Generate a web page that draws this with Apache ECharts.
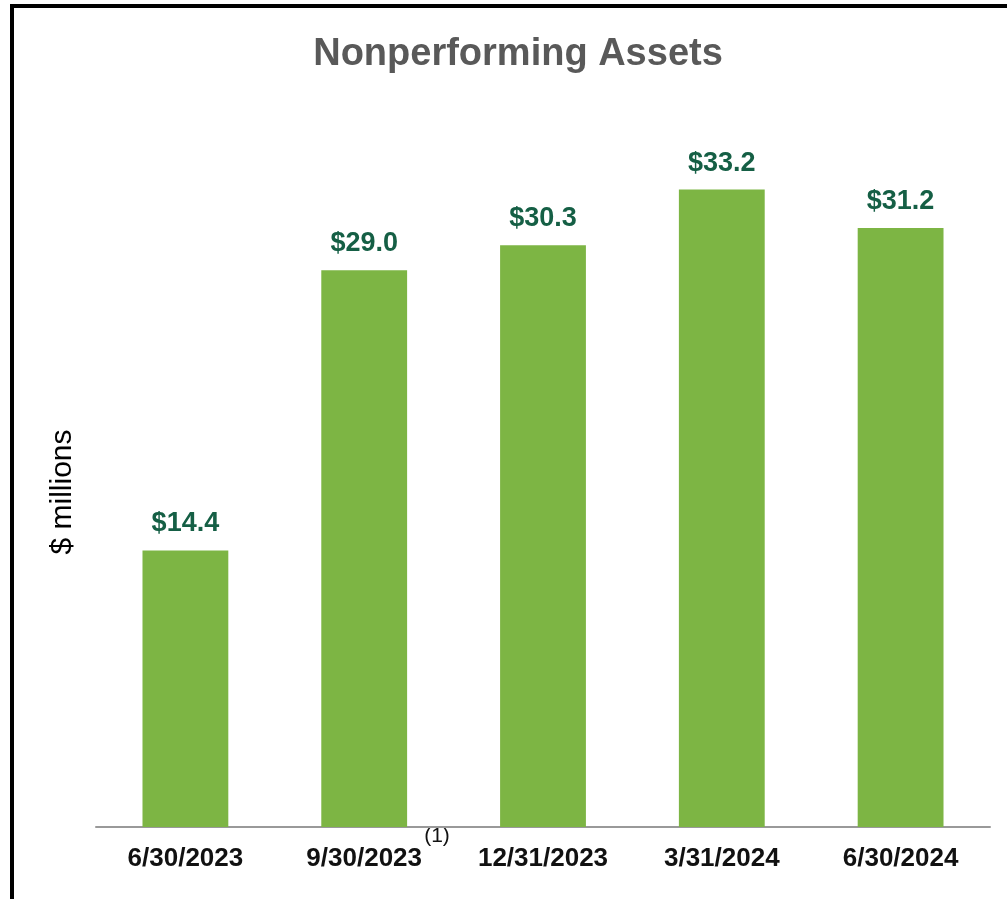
<!DOCTYPE html>
<html>
<head>
<meta charset="utf-8">
<script src="https://cdn.jsdelivr.net/npm/echarts@6/dist/echarts.min.js"></script>
<style>
  html, body { margin: 0; padding: 0; background: #fff; }
  #main { width: 1007px; height: 899px; }
</style>
</head>
<body>
<div id="main"></div>
<script>
// chart data
const categories = ['6/30/2023', '9/30/2023', '12/31/2023', '3/31/2024', '6/30/2024']
const values = [14.4, 29.0, 30.3, 33.2, 31.2]

const myChart = echarts.init(document.getElementById('main'))

myChart.setOption({
  backgroundColor: '#fff',
  animation: false,
  title: {
    text: 'Nonperforming Assets',
    left: 513,
    top: 31,
    textAlign: 'center',
    textStyle: {
      fontFamily: 'Liberation Sans',
      fontSize: 38,
      fontWeight: 'bold',
      color: '#595959'
    }
  },
  grid: {
    left: 96,
    right: 17,
    top: 59,
    bottom: 72
  },
  xAxis: {
    type: 'category',
    data: categories,
    axisLine: { lineStyle: { color: '#999', width: 2 } },
    axisTick: { show: false },
    axisLabel: {
      margin: 19,
      fontFamily: 'Liberation Sans',
      fontSize: 26,
      fontWeight: 'bold',
      color: '#111'
    }
  },
  yAxis: {
    type: 'value',
    min: 0,
    max: 40,
    show: false
  },
  series: [{
    type: 'bar',
    data: values,
    barWidth: '48%',
    itemStyle: { color: '#7db544' },
    label: {
      show: true,
      position: 'top',
      distance: 13,
      fontFamily: 'Liberation Sans',
      fontSize: 27,
      fontWeight: 'bold',
      color: '#155f45',
      formatter: p => '$' + p.value.toFixed(1)
    }
  }],
  graphic: [
    // frame lines (top and left)
    { type: 'rect', shape: { x: 10, y: 4, width: 997, height: 4 }, style: { fill: '#000' } },
    { type: 'rect', shape: { x: 10, y: 4, width: 4, height: 895 }, style: { fill: '#000' } },
    {
      type: 'text',
      x: 63,
      y: 492,
      rotation: Math.PI / 2,
      style: {
        text: '$ millions',
        fontFamily: 'Liberation Sans',
        fontSize: 30,
        fill: '#000',
        align: 'center',
        verticalAlign: 'middle'
      }
    },
    {
      type: 'text',
      x: 437,
      y: 836,
      style: {
        text: '(1)',
        fontFamily: 'Liberation Sans',
        fontSize: 21,
        fill: '#111',
        align: 'center',
        verticalAlign: 'middle'
      }
    }
  ]
})
</script>
</body>
</html>
